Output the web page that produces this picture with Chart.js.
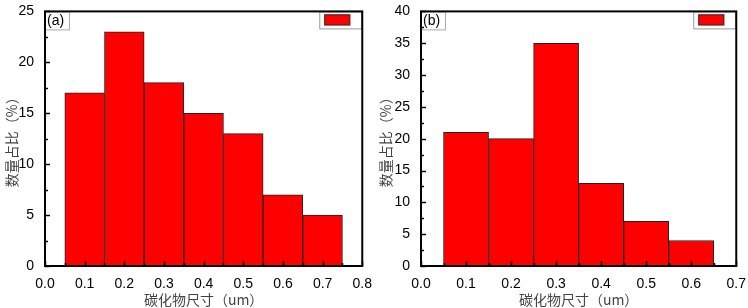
<!DOCTYPE html>
<html>
<head>
<meta charset="utf-8">
<script src="https://cdn.jsdelivr.net/npm/chart.js@4.4.1/dist/chart.umd.min.js"></script>
<style>
  body { margin: 0; background: #fff; }
  .panel { display: inline-block; width: 374px; height: 308px; vertical-align: top; }
</style>
</head>
<body>
<div class="panel"><canvas id="chartA" width="374" height="308"></canvas></div><div class="panel"><canvas id="chartB" width="374" height="308"></canvas></div>
<script>
// bin centres (um) and share of count (%)
const sizesA = [0.1, 0.2, 0.3, 0.4, 0.5, 0.6, 0.7];
const shareA = [17, 23, 18, 15, 13, 7, 5];
const sizesB = [0.1, 0.2, 0.3, 0.4, 0.5, 0.6];
const shareB = [21, 20, 35, 13, 7, 4];

const xTitle = '碳化物尺寸（um）';
const yTitle = '数量占比（%）';

// frame, inward ticks, tag box and legend box
const framePlugin = {
    id: 'frame',
    afterDatasetsDraw(chart, args, opts) {
        const ctx = chart.ctx;
        const a = chart.chartArea;
        const xs = chart.scales.x, ys = chart.scales.y;
        ctx.save();

        // panel tag, e.g. (a)
        ctx.fillStyle = '#fff';
        ctx.fillRect(a.left, a.top, 24, 18);
        ctx.strokeStyle = '#aaa';
        ctx.lineWidth = 1;
        ctx.strokeRect(a.left + 0.5, a.top + 0.5, 24, 18);
        ctx.fillStyle = '#000';
        ctx.font = '14px "Liberation Sans", Arial, sans-serif';
        ctx.textBaseline = 'middle';
        ctx.fillText(opts.tag, a.left + 2, a.top + 10);

        // legend box with swatch only
        const lw = 42, lh = 17;
        const lx = a.right - lw - 1, ly = a.top;
        ctx.fillStyle = '#fff';
        ctx.fillRect(lx, ly, lw, lh);
        ctx.strokeStyle = '#999';
        ctx.strokeRect(lx + 0.5, ly + 0.5, lw, lh);
        ctx.fillStyle = '#ff0000';
        ctx.fillRect(lx + 5, ly + 3, 26, 11);
        ctx.strokeStyle = '#333';
        ctx.strokeRect(lx + 5.5, ly + 3.5, 25, 10);

        // ticks pointing inwards
        ctx.strokeStyle = '#000';
        ctx.lineWidth = 1.5;
        ctx.beginPath();
        const xStep = opts.xStep, yStep = opts.yStep;
        for (let v = xs.min; v <= xs.max + 1e-9; v += xStep / 2) {
            const major = Math.abs(Math.round(v / xStep) * xStep - v) < 1e-6;
            const px = Math.round(xs.getPixelForValue(v)) + 0.5;
            ctx.moveTo(px, a.bottom);
            ctx.lineTo(px, a.bottom - (major ? 5 : 3));
        }
        for (let v = ys.min; v <= ys.max + 1e-9; v += yStep / 2) {
            const major = Math.abs(Math.round(v / yStep) * yStep - v) < 1e-6;
            const py = Math.round(ys.getPixelForValue(v)) + 0.5;
            ctx.moveTo(a.left, py);
            ctx.lineTo(a.left + (major ? 5 : 3), py);
        }
        ctx.stroke();

        // outer frame
        ctx.lineWidth = 2;
        ctx.strokeRect(a.left, a.top, a.right - a.left, a.bottom - a.top);
        ctx.restore();
    }
};

function makeChart(id, sizes, share, xMax, yMax, tag, leftW, rightPad) {
    const ctx = document.getElementById(id).getContext('2d');
    return new Chart(ctx, {
        type: 'bar',
        data: {
            datasets: [{
                data: sizes.map((s, i) => ({ x: s, y: share[i] })),
                backgroundColor: '#ff0000',
                borderColor: '#222',
                borderWidth: 1,
                barPercentage: 1,
                categoryPercentage: 1
            }]
        },
        options: {
            responsive: false,
            animation: false,
            layout: { padding: { top: 8, right: rightPad, left: 0, bottom: 0 } },
            plugins: {
                legend: { display: false },
                tooltip: { enabled: false },
                frame: { tag: tag, xStep: 0.1, yStep: 5 }
            },
            scales: {
                x: {
                    type: 'linear',
                    min: 0,
                    max: xMax,
                    offset: false,
                    grid: { display: false },
                    border: { display: false },
                    afterFit(scale) { scale.height = 42; },
                    ticks: {
                        stepSize: 0.1,
                        color: '#000',
                        padding: 2,
                        maxRotation: 0,
                        font: { family: '"Liberation Sans", Arial, sans-serif', size: 14 },
                        callback: v => v.toFixed(1)
                    },
                    title: {
                        display: true,
                        text: xTitle,
                        color: '#444',
                        padding: { top: 4, bottom: 0 },
                        font: { family: '"Noto Sans CJK SC", sans-serif', size: 14 }
                    }
                },
                y: {
                    min: 0,
                    max: yMax,
                    grid: { display: false },
                    border: { display: false },
                    afterFit(scale) { scale.width = leftW; },
                    ticks: {
                        stepSize: 5,
                        color: '#000',
                        padding: 3,
                        font: { family: '"Liberation Sans", Arial, sans-serif', size: 14 }
                    },
                    title: {
                        display: true,
                        text: yTitle,
                        color: '#444',
                        padding: { top: 3, bottom: 0 },
                        font: { family: '"Noto Sans CJK SC", sans-serif', size: 14 }
                    }
                }
            }
        },
        plugins: [framePlugin]
    });
}

makeChart('chartA', sizesA, shareA, 0.8, 25, '(a)', 45, 10);
makeChart('chartB', sizesB, shareB, 0.7, 40, '(b)', 47, 8);
</script>
</body>
</html>
